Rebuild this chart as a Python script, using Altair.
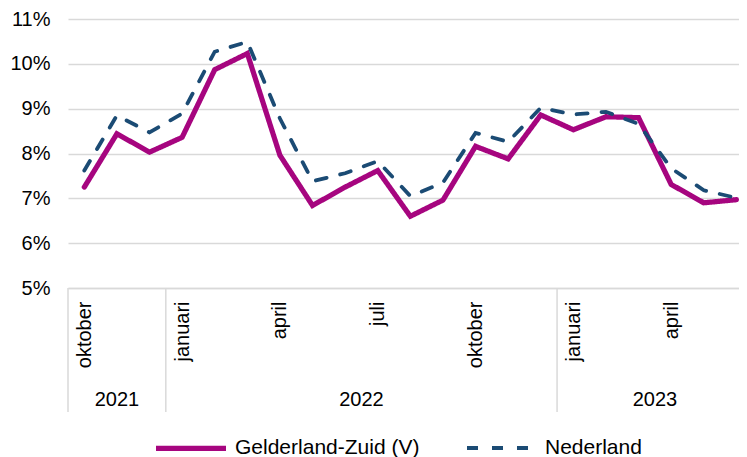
import altair as alt
import pandas as pd

# ---- data ----
maanden = ["oktober", "november", "december",
           "januari", "februari", "maart", "april", "mei", "juni",
           "juli", "augustus", "september", "oktober", "november", "december",
           "januari", "februari", "maart", "april", "mei", "juni"]
jaren = [2021] * 3 + [2022] * 12 + [2023] * 6

gelderland_zuid = [7.25, 8.44, 8.03, 8.36, 9.87, 10.23, 7.96, 6.84, 7.25,
                   7.62, 6.60, 6.96, 8.16, 7.88, 8.86, 8.53, 8.82, 8.80,
                   7.31, 6.90, 6.97]
nederland = [7.62, 8.85, 8.47, 8.89, 10.27, 10.49, 8.78, 7.38, 7.56,
             7.83, 7.05, 7.35, 8.46, 8.26, 9.02, 8.87, 8.93, 8.66,
             7.67, 7.18, 7.01]

series_names = ["Gelderland-Zuid (V)", "Nederland"]
series_colors = ["#A6057F", "#1B4B74"]

label_months = [0, 3, 6, 9, 12, 15, 18]        # positions that get a month label
jaar_labels = ["2021", "2022", "2023"]
jaar_mid = [1, 8.5, 17.5]                       # centre of each year group
scheidingen = [-0.5, 2.5, 14.5]                 # year group separators

y_ticks = [5, 6, 7, 8, 9, 10, 11]

# ---- tables ----
idx = list(range(len(maanden)))
rows = []
for name, vals in zip(series_names, [gelderland_zuid, nederland]):
    for i, v in zip(idx, vals):
        rows.append({"idx": i, "serie": name, "waarde": v})
df = pd.DataFrame(rows)

df_years = pd.DataFrame({"idx": jaar_mid, "jaar": jaar_labels})
df_sep = pd.DataFrame({"idx": scheidingen})

label_map = "{" + ",".join(f"'{i}':'{maanden[i]}'" for i in label_months) + "}"

FONT = "Liberation Sans"
GRID = "#D9D9D9"

x_scale = alt.Scale(domain=[-0.5, 20.08], nice=False, zero=False)

x_enc = alt.X(
    "idx:Q",
    scale=x_scale,
    axis=alt.Axis(
        values=label_months,
        labelExpr=label_map + "[''+datum.value]",
        labelAngle=270,
        labelAlign="right",
        labelBaseline="middle",
        ticks=False,
        tickSize=0,
        grid=False,
        domainColor=GRID,
        domainWidth=1.5,
        labelFontSize=20,
        labelPadding=13,
        labelFlush=False,
        labelOverlap=False,
        labelColor="#000000",
        title=None,
    ),
)

lines = alt.Chart(df).mark_line(strokeCap="round").encode(
    x=x_enc,
    y=alt.Y(
        "waarde:Q",
        scale=alt.Scale(domain=[5, 11], nice=False, zero=False),
        axis=alt.Axis(
            values=y_ticks,
            labelExpr="datum.value + '%'",
            ticks=False,
            domain=False,
            gridColor=GRID,
            gridWidth=1.5,
            labelFontSize=20,
            labelPadding=18,
            labelColor="#000000",
            title=None,
        ),
    ),
    color=alt.Color(
        "serie:N",
        scale=alt.Scale(domain=series_names, range=series_colors),
        legend=alt.Legend(
            orient="none",
            legendX=85,
            legendY=391,
            direction="horizontal",
            symbolType="stroke",
            symbolSize=4900,
            labelFontSize=21,
            labelOffset=6,
            columnPadding=39,
            labelLimit=400,
            labelColor="#000000",
            title=None,
        ),
    ),
    strokeDash=alt.StrokeDash(
        "serie:N",
        scale=alt.Scale(domain=series_names, range=[[1, 0], [11, 14]]),
    ),
    strokeWidth=alt.StrokeWidth(
        "serie:N",
        scale=alt.Scale(domain=series_names, range=[5.2, 3.8]),
    ),
    order=alt.Order("idx:Q"),
)

seps = alt.Chart(df_sep).mark_rule(color=GRID, strokeWidth=1.5).encode(
    x=alt.X("idx:Q", scale=x_scale),
    y=alt.value(269),
    y2=alt.value(393),
)

years = alt.Chart(df_years).mark_text(
    fontSize=20, align="center", baseline="middle", color="#000000"
).encode(
    x=alt.X("idx:Q", scale=x_scale),
    y=alt.value(381),
    text="jaar:N",
)

chart = alt.layer(seps, lines, years).properties(
    width=671,
    height=269,
    padding={"left": 60, "top": 11, "right": 0, "bottom": 169},
    autosize=alt.AutoSizeParams(type="none"),
).configure(font=FONT).configure_view(stroke="transparent")

chart.save("out.html", embed_options={"renderer": "svg", "actions": False})
